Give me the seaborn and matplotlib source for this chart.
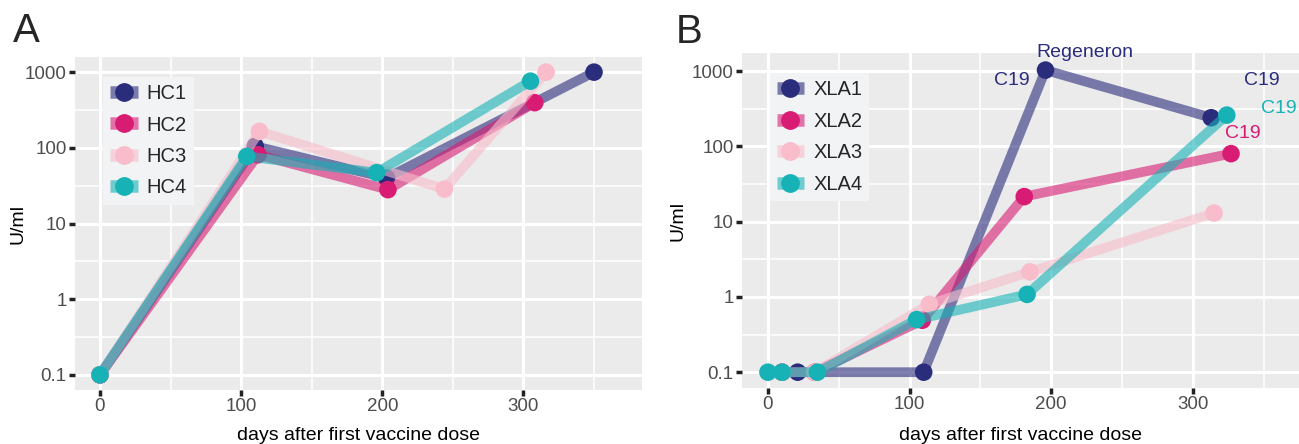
import numpy as np
import pandas as pd
import matplotlib
matplotlib.use("Agg")
import matplotlib.pyplot as plt
from matplotlib.lines import Line2D
from matplotlib.legend_handler import HandlerTuple
from matplotlib.ticker import FixedLocator, NullFormatter
import seaborn as sns

# ---------------- data ----------------
hc_names = ["HC1", "HC2", "HC3", "HC4"]
hc1_days = [0, 110, 203, 350]
hc1_vals = [0.1, 105, 40, 1000]
hc2_days = [0, 112, 204, 308]
hc2_vals = [0.1, 81, 28, 395]
hc3_days = [0, 113, 244, 316]
hc3_vals = [0.1, 165, 28.5, 1000]
hc4_days = [0, 104, 196, 305]
hc4_vals = [0.1, 77, 47, 760]

xla_names = ["XLA1", "XLA2", "XLA3", "XLA4"]
xla1_days = [10, 21, 110, 196, 313]
xla1_vals = [0.1, 0.1, 0.1, 1030, 240]
xla2_days = [10, 33, 109, 181, 327]
xla2_vals = [0.1, 0.1, 0.49, 21.5, 80]
xla3_days = [10, 33, 114, 185, 315]
xla3_vals = [0.1, 0.1, 0.8, 2.15, 13]
xla4_days = [0, 10, 35, 105, 183, 324]
xla4_vals = [0.1, 0.1, 0.1, 0.5, 1.08, 260]

annot_texts = ["Regeneron", "C19", "C19", "C19", "C19"]
annot_days = [224, 172, 349, 361, 335]
annot_vals = [1740, 740, 740, 320, 148]
annot_series = [0, 0, 0, 3, 1]

y_breaks = [0.1, 1, 10, 100, 1000]
y_labels = ["0.1", "1", "10", "100", "1000"]
x_breaks = [0, 100, 200, 300]
x_labels = ["0", "100", "200", "300"]

colors = ["#2a2c7c", "#d81b73", "#f8bccb", "#16b2b6"]

# ---------------- style ----------------
sns.set_theme(style="darkgrid")
plt.rcParams["font.family"] = ["Liberation Sans", "DejaVu Sans"]

fig = plt.figure(figsize=(12.99, 4.44), dpi=100)
axA = fig.add_axes([75 / 1299, 1 - 390 / 444, 567 / 1299, 333 / 444])
axB = fig.add_axes([742 / 1299, 1 - 388 / 444, 557 / 1299, 335 / 444])


def make_df(names, days_list, vals_list):
    rows = []
    for n, d, v in zip(names, days_list, vals_list):
        for di, vi in zip(d, v):
            rows.append({"id": n, "day": di, "val": vi})
    return pd.DataFrame(rows)


dfA = make_df(hc_names, [hc1_days, hc2_days, hc3_days, hc4_days],
              [hc1_vals, hc2_vals, hc3_vals, hc4_vals])
dfB = make_df(xla_names, [xla1_days, xla2_days, xla3_days, xla4_days],
              [xla1_vals, xla2_vals, xla3_vals, xla4_vals])

TICK_FS = 13.5


def draw(ax, df, names, xlim, ylim):
    for i, n in enumerate(names):
        sub = df[df["id"] == n]
        sns.lineplot(data=sub, x="day", y="val", color=colors[i], alpha=0.6,
                     lw=7.0, sort=False, estimator=None, ax=ax,
                     legend=False, zorder=2 + i * 2, solid_capstyle="butt")
        sns.scatterplot(data=sub, x="day", y="val", color=colors[i], s=160,
                        edgecolor="none", linewidth=0, ax=ax, legend=False,
                        zorder=3 + i * 2)
    ax.set_yscale("log")
    ax.set_xlim(*xlim)
    ax.set_ylim(*ylim)
    ax.set_facecolor("#ebebeb")
    for s in ax.spines.values():
        s.set_visible(False)
    ax.yaxis.set_major_locator(FixedLocator(y_breaks))
    ax.yaxis.set_minor_locator(FixedLocator([10 ** (k + 0.5) for k in range(-2, 4)]))
    ax.yaxis.set_minor_formatter(NullFormatter())
    ax.xaxis.set_major_locator(FixedLocator(x_breaks))
    ax.xaxis.set_minor_locator(FixedLocator([-50, 50, 150, 250, 350]))
    ax.set_yticklabels(y_labels, fontsize=TICK_FS, color="#4d4d4d")
    ax.set_xticklabels(x_labels, fontsize=TICK_FS, color="#4d4d4d")
    ax.grid(which="major", color="white", lw=2.2)
    ax.grid(which="minor", color="white", lw=1.1)
    ax.set_axisbelow(True)
    ax.tick_params(which="major", length=4, width=2.5, color="#222222",
                   pad=2, left=True, bottom=True)
    ax.tick_params(which="minor", length=0)
    ax.set_xlabel("days after first vaccine dose", fontsize=14, color="black")
    ax.set_ylabel("U/ml", fontsize=14, color="black")
    handles = []
    for i, n in enumerate(names):
        ln = Line2D([], [], color=colors[i], lw=9, alpha=0.6, solid_capstyle="butt")
        mk = Line2D([], [], color=colors[i], marker="o", markersize=12.5, lw=0)
        handles.append((ln, mk))
    leg = ax.legend(handles, names, handler_map={tuple: HandlerTuple(ndivide=1)},
                    loc="upper left", bbox_to_anchor=(0.05, 0.94),
                    frameon=True, fancybox=False, facecolor="#f2f3f5",
                    edgecolor="none", framealpha=1.0, fontsize=14.5,
                    handlelength=1.35, handletextpad=0.45, labelspacing=0.62,
                    borderpad=0.35, borderaxespad=0.0)
    leg.set_zorder(20)


draw(axA, dfA, hc_names, (-17.7, 384), (10 ** -1.2, 10 ** 3.2))
draw(axB, dfB, xla_names, (-18.3, 375), (10 ** -1.21, 10 ** 3.24))

axA.xaxis.set_label_coords(0.5, -0.11)
axB.xaxis.set_label_coords(0.5, -0.116)
axA.yaxis.set_label_coords(-0.086, 0.5)
axB.yaxis.set_label_coords(-0.099, 0.5)

for t, d, v, si in zip(annot_texts, annot_days, annot_vals, annot_series):
    axB.text(d, v, t, color=colors[si], fontsize=14, ha="center", va="center",
             clip_on=False, zorder=30)

fig.text(13 / 1299, 1 - 42 / 444, "A", fontsize=29, ha="left", va="baseline")
fig.text(676 / 1299, 1 - 43 / 444, "B", fontsize=29, ha="left", va="baseline")

fig.savefig("out.png", dpi=100)
